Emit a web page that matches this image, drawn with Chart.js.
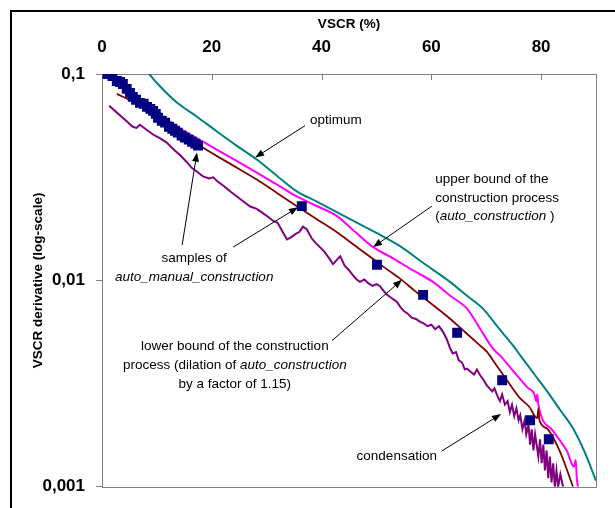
<!DOCTYPE html>
<html>
<head>
<meta charset="utf-8">
<script src="https://cdn.jsdelivr.net/npm/chart.js@4/dist/chart.umd.min.js"></script>
<style>
  body { margin: 0; background: #fff; }
  #wrap { position: relative; width: 615px; height: 508px; }
</style>
</head>
<body>
<div id="wrap"><canvas id="chart"></canvas></div>
<script>
// axis ticks
const xTicks = [0, 20, 40, 60, 80];
const yTicks = [0.001, 0.01, 0.1];

// samples of auto_manual_construction
const sampleX = [1.0, 1.9, 2.7, 3.3, 3.8, 4.5, 5.1, 5.6, 6.2, 6.9, 7.6, 8.2, 8.8, 9.3, 9.8, 10.2, 10.9, 11.5, 12.2, 12.8, 13.3, 13.8, 14.5, 15.1, 15.8, 16.4, 17.0, 17.5,
  36.4, 50.1, 58.5, 64.7, 72.9, 78.0, 81.4];
const sampleY = [0.100, 0.0978, 0.0925, 0.0915, 0.0895, 0.0847, 0.0810, 0.0775, 0.0750, 0.0725, 0.0717, 0.0693, 0.0678, 0.0663, 0.0641, 0.0614, 0.0594, 0.0581, 0.0555, 0.0543, 0.0531, 0.0520, 0.0503, 0.0492, 0.0481, 0.0470, 0.0460, 0.0450,
  0.0229, 0.0119, 0.00851, 0.00558, 0.00328, 0.0021, 0.0017];

// optimum
const optX = [8.6, 10.0, 13.7, 17.3, 21.0, 24.5, 28.2, 32.0, 35.5, 39.0, 42.8, 45.2, 50.0, 54.3, 58.8, 63.4, 66.5, 69.4, 72.2, 74.9, 76.2, 78.8, 81.1, 83.5, 85.8, 88.0, 90.0];
const optY = [0.100, 0.0905, 0.0725, 0.0621, 0.0525, 0.0450, 0.0385, 0.0319, 0.0270, 0.0242, 0.0214, 0.0198, 0.0170, 0.01466, 0.0120, 0.00984, 0.00842, 0.0073, 0.0059, 0.00483, 0.00433, 0.0035, 0.0029, 0.00235, 0.00192, 0.00146, 0.00107];

// upper bound (auto_construction)
const upX = [1.0, 5.0, 8.0, 11.1, 14.5, 18.4, 23.0, 28.2, 32.0, 35.5, 39.0, 42.8, 46.0, 49.4, 53.0, 56.5, 60.3, 63.5, 66.5, 69.0, 71.2, 72.5, 75.0, 77.5, 78.8, 79.1, 79.3, 79.5, 82.2, 84.7, 86.0, 86.3, 86.5, 86.7];
const upY = [0.100, 0.085, 0.072, 0.0621, 0.054, 0.047, 0.040, 0.0333, 0.029, 0.0255, 0.023, 0.0205, 0.0173, 0.0145, 0.0128, 0.01124, 0.00984, 0.0084, 0.0073, 0.00577, 0.00468, 0.00433, 0.00362, 0.00303, 0.0028, 0.0026, 0.0028, 0.0025, 0.00186, 0.00149, 0.00125, 0.00135, 0.0011, 0.001];

// lower bound (dilation by 1.15)
const lowX = [2.7, 6.0, 10.0, 14.0, 18.4, 23.0, 28.2, 32.0, 35.5, 39.0, 42.8, 46.0, 49.4, 52.0, 54.3, 57.0, 60.0, 63.4, 66.0, 68.9, 70.1, 72.0, 74.0, 76.2, 77.8, 79.3, 79.5, 79.7, 81.0, 83.4, 84.9, 85.8];
const lowY = [0.0801, 0.0728, 0.0649, 0.0539, 0.0440, 0.0372, 0.0308, 0.0264, 0.0229, 0.0199, 0.0171, 0.0148, 0.0127, 0.01128, 0.0102, 0.0089, 0.0077, 0.00652, 0.00566, 0.00483, 0.00452, 0.00383, 0.00322, 0.00268, 0.00245, 0.00215, 0.0024, 0.0021, 0.00192, 0.00149, 0.00117, 0.001];

// condensation
const condX = [1.3, 3.0, 4.5, 5.6, 6.3, 6.9, 8.0, 9.5, 10.6, 11.8, 13.0, 14.2, 15.3, 16.4, 17.4, 18.4, 19.5, 20.3, 21.0, 22.3, 23.5, 24.6, 25.7, 27.0, 28.2, 29.5, 30.3, 31.2, 32.0, 32.9,
  33.7, 34.5, 35.3, 36.0, 36.6, 37.3, 38.2, 38.9, 39.7, 40.5, 41.3, 42.1, 42.7, 43.4, 44.2, 45.0, 45.7, 46.4, 47.0, 47.8, 48.5, 49.3, 50.0, 50.6, 51.3, 52.0, 52.8, 53.7, 54.4, 55.0,
  55.7, 56.4, 57.2, 57.9, 58.6, 59.3, 60.0, 60.7, 61.4, 62.1, 62.8, 63.4, 63.9, 64.5, 65.0, 65.6, 66.1, 66.5, 67.2, 67.8, 68.3, 68.9, 69.5, 70.1, 70.6, 71.1, 71.5, 72.0, 72.5, 72.9,
  73.4, 73.9, 74.3, 74.7, 75.1, 75.5, 75.9, 76.2, 76.6, 77.0, 77.3, 77.7, 78.0, 78.3, 78.6, 78.9, 79.2, 79.5, 79.8, 80.1, 80.4, 80.7, 81.0, 81.3, 81.6, 81.9, 82.2, 82.5, 82.8, 83.1, 83.5, 84.0];
const condY = [0.0701, 0.0640, 0.0590, 0.0555, 0.0548, 0.0568, 0.0540, 0.0505, 0.0488, 0.0465, 0.0432, 0.0405, 0.0378, 0.0350, 0.0335, 0.0319, 0.0312, 0.0316, 0.0302, 0.0285, 0.0268, 0.0255, 0.0242, 0.0228, 0.0222, 0.0210, 0.0203, 0.0194, 0.0190, 0.0172,
  0.0158, 0.0162, 0.0168, 0.0172, 0.0182, 0.0177, 0.0160, 0.0152, 0.0145, 0.0138, 0.0129, 0.0120, 0.0125, 0.0131, 0.0118, 0.0112, 0.0106, 0.0101, 0.00984, 0.0101, 0.0097, 0.0094, 0.0096, 0.0094, 0.0089, 0.0085, 0.0082, 0.00788, 0.0074, 0.0071,
  0.0069, 0.0066, 0.0065, 0.00631, 0.0062, 0.0060, 0.0061, 0.0058, 0.0060, 0.00565, 0.0052, 0.0047, 0.00443, 0.0045, 0.0041, 0.0040, 0.0037, 0.00374, 0.0036, 0.0035, 0.0037, 0.00347, 0.0033, 0.0031, 0.0030, 0.0029, 0.0030, 0.00277, 0.0026, 0.0028,
  0.0025, 0.0026, 0.0023, 0.0025, 0.0022, 0.0024, 0.0021, 0.00222, 0.0019, 0.0021, 0.0018, 0.0020, 0.0016, 0.0019, 0.0015, 0.0018, 0.00159, 0.0014, 0.0017, 0.0013, 0.0016, 0.0012, 0.0015, 0.0011, 0.0014, 0.00105, 0.0013, 0.0010, 0.0012, 0.0010, 0.00115, 0.0010];

const FONT = '"Liberation Sans", Arial, sans-serif';

// annotation texts, anchored in data units; segments marked i are italic
const notes = [
  { x: 37.9, ys: [0.0594], align: 'left', lines: [[{ t: 'optimum' }]],
    arrows: [[37.0, 0.0562, 27.9, 0.0394]] },
  { x: 60.7, ys: [0.0308, 0.0250, 0.0205], align: 'left',
    lines: [[{ t: 'upper bound of the' }], [{ t: 'construction process' }],
            [{ t: '(' }, { t: 'auto_construction', i: true }, { t: ' )' }]],
    arrows: [[60.1, 0.0229, 49.4, 0.0145]] },
  { x: 16.8, ys: [0.01283, 0.0104], align: 'center',
    lines: [[{ t: 'samples of' }], [{ t: 'auto_manual_construction', i: true }]],
    arrows: [[14.6, 0.01483, 17.3, 0.0416], [23.9, 0.0145, 35.7, 0.0226]] },
  { x: 24.2, ys: [0.00478, 0.00387, 0.00314], align: 'center',
    lines: [[{ t: 'lower bound of the construction' }],
            [{ t: 'process (dilation of ' }, { t: 'auto_construction', i: true }],
            [{ t: 'by a factor of 1.15)' }]],
    arrows: [[41.9, 0.00511, 54.65, 0.01006]] },
  { x: 53.7, ys: [0.00141], align: 'center', lines: [[{ t: 'condensation' }]],
    arrows: [[61.9, 0.00149, 72.7, 0.00225]] }
];

function pts(xs, ys) {
  return xs.map((x, i) => ({ x: x, y: ys[i] }));
}

function drawArrow(ctx, x1, y1, x2, y2) {
  const a = Math.atan2(y2 - y1, x2 - x1);
  const len = 9, half = 3.5;
  ctx.beginPath();
  ctx.moveTo(x1, y1);
  ctx.lineTo(x2 - Math.cos(a) * len * 0.8, y2 - Math.sin(a) * len * 0.8);
  ctx.stroke();
  ctx.beginPath();
  ctx.moveTo(x2, y2);
  ctx.lineTo(x2 - Math.cos(a) * len + Math.sin(a) * half, y2 - Math.sin(a) * len - Math.cos(a) * half);
  ctx.lineTo(x2 - Math.cos(a) * len - Math.sin(a) * half, y2 - Math.sin(a) * len + Math.cos(a) * half);
  ctx.closePath();
  ctx.fill();
}

const decor = {
  id: 'decor',
  beforeDatasetsDraw(chart) {
    const { ctx, chartArea: a, scales } = chart;
    ctx.save();
    // outer frame
    ctx.strokeStyle = '#000';
    ctx.lineWidth = 2;
    ctx.strokeRect(11, 11, 700, 700);
    // plot box
    ctx.strokeStyle = '#808080';
    ctx.lineWidth = 1;
    ctx.strokeRect(Math.round(a.left) + 0.5, Math.round(a.top) + 0.5, Math.round(a.right - a.left), Math.round(a.bottom - a.top));
    // x ticks pointing into the plot
    ctx.beginPath();
    xTicks.forEach(v => {
      if (v === 0) return;
      const px = Math.round(scales.x.getPixelForValue(v)) + 0.5;
      ctx.moveTo(px, a.top);
      ctx.lineTo(px, a.top + 6);
    });
    ctx.stroke();
    ctx.restore();
  },
  afterDatasetsDraw(chart) {
    const { ctx, scales } = chart;
    const sx = scales.x, sy = scales.y;
    ctx.save();
    ctx.fillStyle = '#000';
    ctx.strokeStyle = '#000';
    ctx.lineWidth = 1;
    ctx.textBaseline = 'middle';
    notes.forEach(n => {
      const px = sx.getPixelForValue(n.x);
      n.lines.forEach((segs, li) => {
        const py = sy.getPixelForValue(n.ys[li]);
        let w = 0;
        segs.forEach(s => {
          ctx.font = (s.i ? 'italic ' : '') + '13.5px ' + FONT;
          s.w = ctx.measureText(s.t).width;
          w += s.w;
        });
        let cx = n.align === 'center' ? px - w / 2 : px;
        ctx.textAlign = 'left';
        segs.forEach(s => {
          ctx.font = (s.i ? 'italic ' : '') + '13.5px ' + FONT;
          ctx.fillText(s.t, cx, py);
          cx += s.w;
        });
      });
      n.arrows.forEach(r => {
        drawArrow(ctx, sx.getPixelForValue(r[0]), sy.getPixelForValue(r[1]),
                  sx.getPixelForValue(r[2]), sy.getPixelForValue(r[3]));
      });
    });
    ctx.restore();
  }
};

function lineSet(data, color, width, smooth) {
  const ds = { data: data, borderColor: color, backgroundColor: color, borderWidth: width,
               pointRadius: 0, tension: 0, fill: false };
  if (smooth) ds.cubicInterpolationMode = 'monotone';
  return ds;
}

new Chart(document.getElementById('chart'), {
  type: 'line',
  data: {
    datasets: [
      { data: pts(sampleX, sampleY), showLine: false, pointStyle: 'rect', pointRadius: 7,
        pointBorderWidth: 0, backgroundColor: '#000080', borderColor: '#000080' },
      lineSet(pts(condX, condY), '#800080', 2, false),
      lineSet(pts(lowX, lowY), '#800000', 1.8, true),
      lineSet(pts(upX, upY), '#FF00FF', 2, true),
      lineSet(pts(optX, optY), '#008080', 2, true)
    ]
  },
  options: {
    responsive: true,
    maintainAspectRatio: false,
    animation: false,
    layout: { padding: { left: 0, top: 0, right: 19, bottom: 19 } },
    plugins: { legend: { display: false }, tooltip: { enabled: false } },
    scales: {
      x: {
        type: 'linear', position: 'top', min: 0, max: 90,
        afterBuildTicks: s => { s.ticks = xTicks.map(v => ({ value: v })); },
        afterFit: s => { s.height = 74; },
        grid: { display: false, drawTicks: false },
        border: { display: false },
        ticks: { padding: 16, color: '#000', font: { family: FONT, size: 17, weight: 'bold' } },
        title: { display: true, text: 'VSCR (%)', color: '#000', padding: { top: 16, bottom: 0 },
                 font: { family: FONT, size: 13.5, weight: 'bold' } }
      },
      y: {
        type: 'logarithmic', min: 0.001, max: 0.1,
        afterBuildTicks: s => { s.ticks = yTicks.map(v => ({ value: v })); },
        afterFit: s => { s.width = 102; },
        grid: { drawOnChartArea: false, drawTicks: true, tickLength: 6, color: '#808080' },
        border: { display: false },
        ticks: { padding: 11, color: '#000', font: { family: FONT, size: 17, weight: 'bold' },
                 callback: v => String(v).replace('.', ',') },
        title: { display: true, text: 'VSCR derivative (log-scale)', color: '#000', padding: { top: 30, bottom: 0 },
                 font: { family: FONT, size: 13.5, weight: 'bold' } }
      }
    }
  },
  plugins: [decor]
});
</script>
</body>
</html>
